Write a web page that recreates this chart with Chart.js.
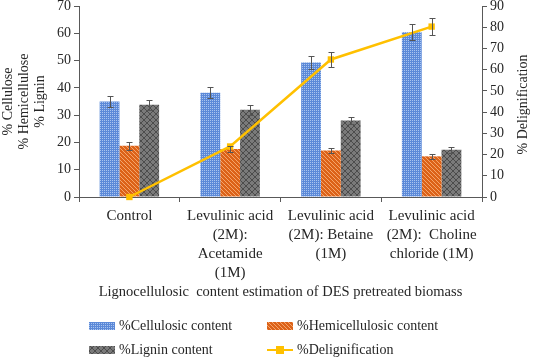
<!doctype html><html lang="en">
<head>
<meta charset="utf-8">
<title>Lignocellulosic content estimation</title>
<script src="https://cdn.jsdelivr.net/npm/chart.js@4"></script>
<style>
html,body{margin:0;padding:0;background:#fff}
#wrap{position:relative;width:533px;height:359px}
#legend{position:absolute;left:0;top:0;width:533px;height:359px;pointer-events:none;font:14px "Liberation Serif",serif;color:#262626}
.lg{position:absolute;display:flex;align-items:center;white-space:nowrap;height:18px}
.lg canvas{margin-right:4px}
</style>
</head>
<body>
<div id="wrap">
  <canvas id="c" width="533" height="359"></canvas>
  <div id="legend"></div>
</div>
<script>
// data
const categories=['Control',['Levulinic acid','(2M):','Acetamide','(1M)'],['Levulinic acid','(2M): Betaine','(1M)'],['Levulinic acid','(2M):  Choline','chloride (1M)']];
const cellulose=[35,38.2,49.3,60.4], cellErr=[2,2,2.4,3];
const hemi=[18.8,17.6,17,14.9], hemiErr=[1.4,1,1,0.9];
const lignin=[33.8,32,28,17.3], ligErr=[1.8,1.8,1.2,1];
const delig=[0,23.8,64.8,80.3], deligErr=[0,0,3.5,4.2];
const seriesNames=['%Cellulosic content','%Hemicellulosic content','%Lignin content','%Delignification'];
const xTitle='Lignocellulosic  content estimation of DES pretreated biomass';
const yTitle=['% Cellulose','% Hemicellulose','% Lignin'];
const y2Title='% Delignification';
const errors=[cellErr,hemiErr,ligErr,deligErr];

const SERIF='"Liberation Serif","Times New Roman",serif';
Chart.defaults.font.family=SERIF;Chart.defaults.color='#262626';

function pattern(kind){
  const c=document.createElement('canvas'),g=c.getContext('2d');
  if(kind==='dots'){c.width=c.height=4;g.fillStyle='#5b89d8';g.fillRect(0,0,4,4);g.fillStyle='#a9c4ef';g.fillRect(0,0,1,1);g.fillRect(2,2,1,1);g.fillRect(2,0,1,1);g.fillRect(0,2,1,1)}
  else if(kind==='stripes'){c.width=c.height=4;g.fillStyle='#dc6218';g.fillRect(0,0,4,4);g.fillStyle='#f4a56c';for(let i=0;i<4;i++)g.fillRect(i,i,1,1)}
  else{c.width=c.height=6;g.fillStyle='#7a7a7a';g.fillRect(0,0,6,6);g.fillStyle='#4c4c4c';for(let i=0;i<6;i++){g.fillRect(i,i,1,1);g.fillRect(i,5-i,1,1)}}
  return g.createPattern(c,'repeat');
}
const fills=[pattern('dots'),pattern('stripes'),pattern('diamond')];
const LINE='#ffc000';

const errorBars={id:'errorBars',afterDatasetsDraw(chart){
  const ctx=chart.ctx;ctx.save();ctx.strokeStyle='#555';ctx.lineWidth=1;
  chart.data.datasets.forEach((ds,di)=>{
    const err=errors[di],meta=chart.getDatasetMeta(di),sc=chart.scales[meta.yAxisID];
    meta.data.forEach((el,i)=>{
      const e=err[i];if(!e)return;
      const x=Math.round(el.x)+.5,y1=Math.round(sc.getPixelForValue(ds.data[i]+e))+.5,y2=Math.round(sc.getPixelForValue(ds.data[i]-e))+.5;
      ctx.beginPath();ctx.moveTo(x,y1);ctx.lineTo(x,y2);
      ctx.moveTo(x-3,y1);ctx.lineTo(x+3,y1);ctx.moveTo(x-3,y2);ctx.lineTo(x+3,y2);ctx.stroke();
    });
  });
  ctx.restore();
}};
const rightTitle={id:'rightTitle',afterDraw(chart){
  const {ctx,chartArea}=chart;ctx.save();
  ctx.translate(523,(chartArea.top+chartArea.bottom)/2+3);ctx.rotate(-Math.PI/2);
  ctx.font='14px '+SERIF;ctx.fillStyle='#262626';ctx.textAlign='center';ctx.textBaseline='middle';
  ctx.fillText(y2Title,0,0);ctx.restore();
}};

const axisCol='#595959';
function fixV(w){return s=>{s.width=w;s.paddingTop=0;s.paddingBottom=0}}
new Chart(document.getElementById('c'),{
  data:{labels:categories,datasets:[
    {type:'bar',label:seriesNames[0],data:cellulose,backgroundColor:fills[0],yAxisID:'y',order:1},
    {type:'bar',label:seriesNames[1],data:hemi,backgroundColor:fills[1],yAxisID:'y',order:1},
    {type:'bar',label:seriesNames[2],data:lignin,backgroundColor:fills[2],yAxisID:'y',order:1},
    {type:'line',label:seriesNames[3],data:delig,borderColor:LINE,backgroundColor:LINE,borderWidth:2.5,pointStyle:'rect',pointRadius:4.5,pointBorderWidth:0,yAxisID:'y2',order:0,clip:false}
  ]},
  options:{responsive:false,animation:false,
    layout:{padding:{top:6,left:0,right:0,bottom:0}},
    datasets:{bar:{categoryPercentage:.59,barPercentage:1}},
    plugins:{legend:{display:false},tooltip:{enabled:false}},
    scales:{
      x:{offset:true,grid:{offset:true,drawOnChartArea:false,tickLength:5,color:axisCol},border:{color:axisCol},
        ticks:{autoSkip:false,maxRotation:0,padding:5,font:{size:15,lineHeight:1.25},color:'#262626'},
        title:{display:true,text:xTitle,font:{size:14.5},padding:{top:0,bottom:58}},
        afterFit(s){s.height=162;s.paddingLeft=0;s.paddingRight=0}},
      y:{position:'left',min:0,max:70,ticks:{stepSize:10,padding:3,font:{size:14}},
        grid:{drawOnChartArea:false,tickLength:5,color:axisCol},border:{color:axisCol},
        title:{display:true,text:yTitle,font:{size:14,lineHeight:1.15},padding:{top:0,bottom:0}},
        afterFit:fixV(79)},
      y2:{position:'right',min:0,max:90,ticks:{stepSize:10,padding:3,font:{size:14}},
        grid:{drawOnChartArea:false,tickLength:5,color:axisCol},border:{color:axisCol},
        afterFit:fixV(51)}
    }
  },
  plugins:[errorBars,rightTitle]
});

// legend: two columns, two rows
const lg=document.getElementById('legend');
const colX=[89,267],rowY=[326,350];
seriesNames.forEach((name,i)=>{
  const d=document.createElement('div');d.className='lg';
  d.style.left=colX[i%2]+'px';d.style.top=(rowY[Math.floor(i/2)]-9)+'px';
  const sw=document.createElement('canvas');sw.width=26;sw.height=10;
  const g=sw.getContext('2d');
  if(i<3){g.fillStyle=fills[i];g.fillRect(0,1,26,8)}
  else{g.strokeStyle=LINE;g.lineWidth=2;g.beginPath();g.moveTo(0,5);g.lineTo(26,5);g.stroke();g.fillStyle=LINE;g.fillRect(9,1,8,8)}
  d.appendChild(sw);d.appendChild(document.createTextNode(name));lg.appendChild(d);
});
</script>
</body></html>
